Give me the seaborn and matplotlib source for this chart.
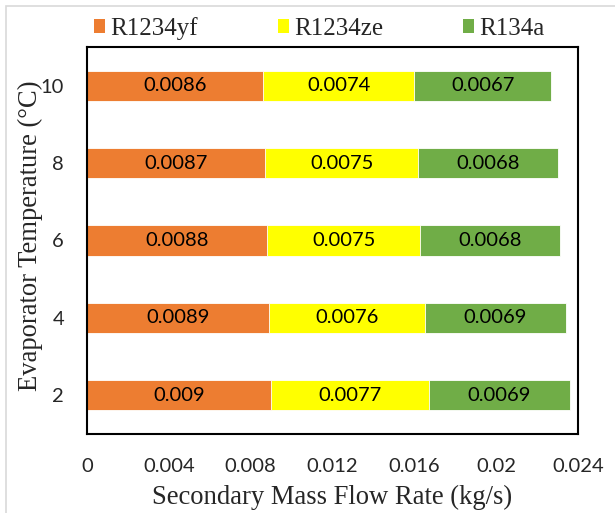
import matplotlib
matplotlib.use("Agg")
import matplotlib.pyplot as plt
import seaborn as sns
import pandas as pd
import numpy as np
from matplotlib.patches import Rectangle, Patch

temps = ["10", "8", "6", "4", "2"]
r1234yf = [0.0086, 0.0087, 0.0088, 0.0089, 0.009]
r1234ze = [0.0074, 0.0075, 0.0075, 0.0076, 0.0077]
r134a = [0.0067, 0.0068, 0.0068, 0.0069, 0.0069]
series = ["R1234yf", "R1234ze", "R134a"]
colors = ["#ED7D31", "#FFFF00", "#70AD47"]
xticks = [0, 0.004, 0.008, 0.012, 0.016, 0.02, 0.024]
xtick_labels = ["0", "0.004", "0.008", "0.012", "0.016", "0.02", "0.024"]

sns.set_theme(style="white")
plt.rcParams["font.family"] = ["Lato", "DejaVu Sans"]

fig = plt.figure(figsize=(6.15, 5.13), dpi=100)
ax = fig.add_axes([87 / 615, 1 - 434 / 513, 491 / 615, 387 / 513])

df = pd.DataFrame({"temp": temps, "R1234yf": r1234yf, "R1234ze": r1234ze, "R134a": r134a})
vals = df[series].to_numpy()
cum = np.cumsum(vals, axis=1)
df["c1"] = cum[:, 0]
df["c2"] = cum[:, 1]
df["c3"] = cum[:, 2]

# stacked bars: draw the running totals from largest to smallest
for col, color in zip(["c3", "c2", "c1"], colors[::-1]):
    sns.barplot(data=df, x=col, y="temp", order=temps, color=color, width=0.39,
                saturation=1, edgecolor="white", linewidth=0.6, ax=ax, orient="h")

# value labels centred in each segment
starts = np.hstack([np.zeros((len(temps), 1)), cum[:, :-1]])
for i in range(len(temps)):
    for j in range(len(series)):
        ax.text(starts[i, j] + vals[i, j] / 2, i, f"{vals[i, j]:g}",
                ha="center", va="center", fontsize=14.5, color="black")

ax.set_xlim(0, 0.024)
ax.set_ylim(4.5, -0.5)
ax.set_xticks(xticks)
ax.set_xticklabels(xtick_labels, fontsize=14.5)
ax.tick_params(axis="y", labelsize=14.5, pad=16.5)
ax.tick_params(axis="x", pad=17.5)
ax.tick_params(length=0)
for s in ax.spines.values():
    s.set_visible(True)
    s.set_color("black")
    s.set_linewidth(1.5)

serif = ["Liberation Serif", "DejaVu Serif"]
ax.set_xlabel("Secondary Mass Flow Rate (kg/s)", fontsize=19.2, family=serif, labelpad=7)
ax.set_ylabel("Evaporator Temperature (°C)", fontsize=19.2, family=serif, labelpad=-1.5, y=0.513)

handles = [Patch(facecolor=c, edgecolor="none") for c in colors]
fig.legend(handles, series, loc="center", bbox_to_anchor=(0.519, 0.945), ncol=3, frameon=False,
           prop={"family": serif, "size": 18}, handlelength=0.45, handleheight=0.45,
           handletextpad=0.2, columnspacing=3.2)

# light outer frame of the chart area
fig.patches.append(Rectangle((6 / 615, -0.05), 1.2, 1 - 6 / 513 + 0.05, transform=fig.transFigure,
                             fill=False, edgecolor="#D9D9D9", linewidth=1.2))

fig.savefig("out.png", dpi=100)
